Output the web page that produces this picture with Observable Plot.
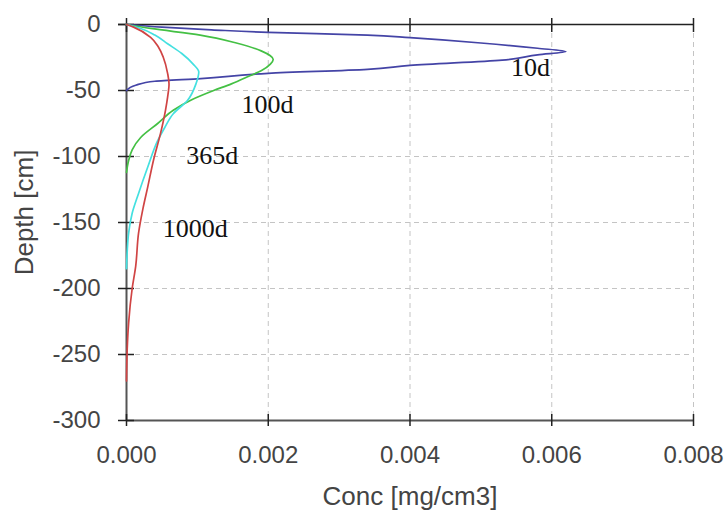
<!DOCTYPE html>
<html>
<head>
<meta charset="utf-8">
<script src="https://cdn.jsdelivr.net/npm/d3@7"></script>
<script src="https://cdn.jsdelivr.net/npm/@observablehq/plot@0.6"></script>
<style>
  html, body { margin: 0; padding: 0; background: #fff; }
  #chart svg { display: block; }
  #chart g[aria-label="x-axis label"], #chart g[aria-label="y-axis label"] { font-size: 26px; }
</style>
</head>
<body>
<div id="chart"></div>
<script>
// Concentration profiles (conc in mg/cm3, depth in cm)
const depth10 = [0, -2, -4, -6, -8, -10, -14, -18, -20.5, -23, -27, -31, -34, -37, -41, -43, -46, -50];
const conc10  = [0, 0.0005, 0.0012, 0.002, 0.0034, 0.004, 0.005, 0.0058, 0.0062, 0.0058, 0.0053, 0.004, 0.0034, 0.002, 0.00105, 0.0004, 0.00013, 0];

const depth100 = [0, -3, -8, -14, -20, -26.5, -30, -35, -38.6, -45, -50, -57, -65, -75, -85.6, -95, -103, -112];
const conc100  = [0, 0.00034, 0.00104, 0.00155, 0.0019, 0.00207, 0.00203, 0.0019, 0.00175, 0.00148, 0.00123, 0.00092, 0.00066, 0.00044, 0.0002, 0.00008, 0.00003, 0];

const depth365 = [0, -3, -8, -14.6, -22, -30, -36, -45, -57.6, -67.6, -78, -88, -108, -128, -143, -158, -172, -185];
const conc365  = [0, 0.0002, 0.0004, 0.00058, 0.00078, 0.00094, 0.00102, 0.00098, 0.00086, 0.00066, 0.00054, 0.00044, 0.0003, 0.00017, 0.00008, 0.00003, 0.00001, 0];

const depth1000 = [0, -2, -9.7, -17, -25, -37, -45, -55, -65, -82.5, -103, -123, -140, -158, -183, -200, -226, -246, -270];
const conc1000  = [0, 0.0001, 0.00034, 0.00045, 0.00052, 0.00058, 0.0006, 0.00058, 0.00055, 0.00048, 0.00038, 0.0003, 0.00023, 0.00017, 0.00013, 0.00008, 0.00003, 0.00001, 0];

const seriesNames  = ["10d", "100d", "365d", "1000d"];
const seriesColors = ["#4444a6", "#44c044", "#44e0e0", "#d04444"];

// Curve labels (data coordinates)
const labelText  = ["10d", "100d", "365d", "1000d"];
const labelConc  = [0.0057, 0.00199, 0.00121, 0.00097];
const labelDepth = [-33, -61, -99, -155];

const xTicks = [0, 0.002, 0.004, 0.006, 0.008];
const yTicks = [0, -50, -100, -150, -200, -250, -300];

const profiles = [
  [depth10, conc10], [depth100, conc100], [depth365, conc365], [depth1000, conc1000]
];
const rows = [];
profiles.forEach(([d, c], i) => {
  d.forEach((v, j) => rows.push({series: seriesNames[i], depth: v, conc: c[j], idx: j}));
});
const labels = labelText.map((t, i) => ({t, conc: labelConc[i], depth: labelDepth[i]}));

const sans = "'Liberation Sans', Arial, sans-serif";

const chart = Plot.plot({
  width: 726,
  height: 511,
  marginLeft: 126,
  marginRight: 33,
  marginTop: 24,
  marginBottom: 91,
  style: {fontFamily: sans, background: "#fff", color: "#3a3a3a"},
  x: {domain: [0, 0.008], ticks: xTicks},
  y: {domain: [-300, 0], ticks: yTicks},
  color: {domain: seriesNames, range: seriesColors},
  marks: [
    Plot.gridX(xTicks.slice(1), {stroke: "#c4c4c4", strokeOpacity: 1, strokeDasharray: "5,4"}),
    Plot.gridY(yTicks.slice(1, -1), {stroke: "#c4c4c4", strokeOpacity: 1, strokeDasharray: "5,4"}),
    Plot.ruleY([0], {stroke: "#222", strokeWidth: 1.5, x1: 0, x2: 0.008, insetLeft: -8}),
    Plot.ruleY([-300], {stroke: "#555", strokeWidth: 2, x1: 0, x2: 0.008}),
    Plot.ruleX([0], {stroke: "#555", strokeWidth: 2}),
    Plot.axisX(xTicks, {anchor: "top", tickSize: 14, insetTop: 7, tickFormat: () => "", label: null, stroke: "#222", strokeWidth: 1.5}),
    Plot.axisX(xTicks, {
      anchor: "bottom", tickSize: 12, insetBottom: 6, tickPadding: 19,
      tickFormat: d3.format(".3f"), fontSize: 24, fill: "#444",
      stroke: "#222", strokeWidth: 1.5,
      label: "Conc [mg/cm3]", labelAnchor: "center", labelOffset: 84, labelArrow: "none"
    }),
    Plot.axisY(yTicks, {
      anchor: "left", tickSize: 16, insetLeft: 8, tickPadding: 18,
      tickFormat: d => d, fontSize: 24, fill: "#444",
      stroke: "#222", strokeWidth: 1.5,
      label: "Depth [cm]", labelAnchor: "center", labelOffset: 112, labelArrow: "none"
    }),
    Plot.line(rows, {x: "conc", y: "depth", z: "series", stroke: "series", strokeWidth: 1.7, curve: "monotone-y"}),
    Plot.text(labels, {x: "conc", y: "depth", text: "t", fontFamily: "'Liberation Serif', 'Times New Roman', serif", fontSize: 26, fill: "#111"})
  ]
});
// nudge the y-axis title slightly upward, as in the reference
const yLab = chart.querySelector('g[aria-label="y-axis label"]');
if (yLab) {
  const t = yLab.getAttribute("transform") || "";
  yLab.setAttribute("transform", (t + " translate(0,-10)").trim());
}
document.getElementById("chart").appendChild(chart);
</script>
</body>
</html>
